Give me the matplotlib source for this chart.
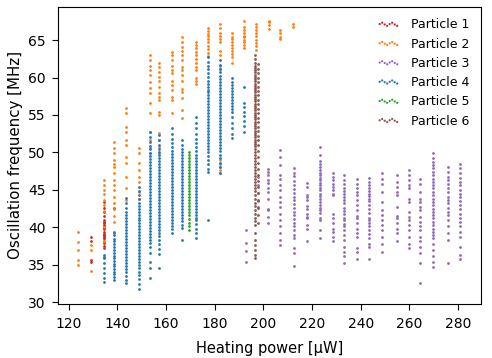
import numpy as np
import matplotlib
matplotlib.use("Agg")
import matplotlib.pyplot as plt

labels = ["Particle 1", "Particle 2", "Particle 3", "Particle 4", "Particle 5", "Particle 6"]
colors = ["#d62728", "#ff7f0e", "#9467bd", "#1f77b4", "#2ca02c", "#8c564b"]

# Particle 1 (red)
p1_x = [129.0, 134.5, 138.5]
p1_y = [
    [38.7, 38.2, 35.6, 35.3],
    [43.4, 42.6, 42.1, 41.5, 41.0, 40.7, 40.3, 40.0, 39.7, 39.4, 39.1, 38.8, 38.5,
     38.2, 37.9, 37.5, 37.2, 40.6, 39.9, 39.0, 38.6, 36.0],
    [42.6],
]

# Particle 2 (orange)
p2_x = [124.0, 129.3, 134.5, 138.6, 143.7, 148.8, 153.3, 157.2, 162.5, 166.6,
        172.3, 177.2, 182.1, 187.0, 192.1, 197.0, 202.3, 207.0, 212.0]
p2_y = [
    [39.3, 38.0, 36.9, 35.6, 35.0],
    [36.9, 34.1, 37.6],
    [46.3, 45.6, 45.0, 44.4, 43.6, 43.0, 42.2, 40.0, 38.1],
    [51.4, 50.6, 49.9, 49.0, 48.4, 48.0, 47.2, 46.3, 45.6, 45.0, 44.0, 43.2, 42.5, 41.5, 40.7, 39.2],
    [55.9, 55.2, 53.4, 52.7, 51.6, 51.0, 49.4, 48.6, 46.7, 45.2, 43.6],
    [50.6, 49.9, 48.6, 47.6, 46.7, 46.0, 44.7, 43.8],
    [63.0, 62.3, 61.6, 61.0, 60.3, 59.4, 58.6, 57.9, 56.6, 55.2, 52.7, 51.6, 50.6, 49.9],
    [62.0, 61.4, 60.7, 60.1, 59.6, 58.7, 57.9, 57.4, 57.0, 55.4, 55.0, 52.6, 51.6, 50.7, 49.9],
    [63.4, 63.0, 62.3, 61.6, 61.0, 60.6, 59.6, 59.0, 58.3, 57.4, 57.0, 55.2],
    [65.4, 64.7, 64.1, 63.6, 63.0, 62.3, 61.4, 61.0, 60.3, 59.6, 58.5, 58.1, 57.2, 55.6, 54.6],
    [64.8, 64.3, 63.9, 63.4, 63.0, 62.5, 61.9, 61.4, 61.0, 59.9, 59.6, 59.2],
    [66.6, 66.2, 65.8, 65.6, 65.1, 64.7, 64.2, 63.8, 63.3, 62.9],
    [67.2, 66.6, 65.9, 65.6, 65.2, 64.8, 63.6, 63.0, 61.6, 61.2, 49.0, 48.4, 48.0, 47.6, 47.2],
    [65.9, 65.4, 65.2, 64.7, 64.3, 64.0, 63.6, 63.2, 62.7, 62.0],
    [67.6, 66.7, 66.3, 66.0, 65.6, 65.4, 65.0, 64.7, 64.3, 63.9],
    [67.2, 66.8, 66.3, 65.9, 65.5, 65.0, 64.6, 64.2, 63.7],
    [67.6, 67.4, 67.0, 66.5],
    [66.3, 65.9, 65.4, 65.2],
    [67.2, 66.8],
]

# Particle 3 (purple)
p3_x = [192.8, 197.8, 202.0, 207.0, 212.5, 217.8, 223.3, 228.4, 233.2, 238.4,
        243.5, 248.9, 255.1, 259.8, 264.4, 269.9, 275.7, 281.0]
p3_y = [
    [39.6, 37.9, 36.8, 35.3],
    [46.7, 45.7, 44.6, 43.5, 42.7],
    [47.8, 47.4, 47.0, 46.3, 45.9, 45.2, 44.7, 43.8, 42.5, 42.3, 41.4, 40.5],
    [50.3, 49.4, 48.3, 47.0, 46.5, 45.6, 45.0, 44.1, 43.4, 42.7, 41.8, 40.9, 40.1, 39.2, 38.3, 37.6],
    [47.9, 47.3, 46.8, 46.2, 45.7, 45.1, 44.6, 44.1, 43.6, 43.1, 42.6, 42.1, 41.6, 41.1,
     40.6, 40.1, 39.6, 39.0, 38.5, 37.2, 36.5, 34.8],
    [45.9, 45.4, 44.3, 44.1, 43.6, 42.9, 42.5, 41.8, 41.4, 41.2, 40.3, 39.8, 38.1],
    [50.7, 49.7, 48.8, 48.5, 48.0, 47.7, 47.3, 47.0, 46.6, 46.3, 45.9, 45.6, 45.3, 45.0,
     44.5, 44.2, 43.8, 43.4, 43.0, 42.6, 42.3, 41.9, 41.3, 40.9, 39.6, 38.5],
    [47.2, 46.7, 46.3, 45.8, 45.4, 45.0, 44.5, 44.3, 41.8, 41.2, 40.5, 39.8, 39.4, 38.7, 38.1],
    [47.0, 46.3, 45.8, 45.3, 44.9, 44.5, 44.1, 43.6, 43.2, 42.6, 42.2, 41.8, 41.3, 40.9,
     40.4, 40.1, 39.6, 38.9, 38.3, 37.4, 36.7, 36.1, 35.2],
    [46.5, 45.8, 45.3, 44.7, 44.3, 43.6, 43.0, 42.3, 41.5, 41.2, 40.5, 39.8, 39.2, 38.7,
     37.2, 36.7, 35.8],
    [46.6, 46.1, 45.6, 45.2, 44.9, 44.5, 44.2, 43.8, 43.5, 43.0, 42.4, 41.9, 41.3, 40.9,
     40.5, 40.1, 39.6, 39.1, 38.5, 37.8, 37.4, 35.8],
    [47.2, 46.5, 45.8, 44.7, 43.4, 42.3, 41.6, 40.9, 40.3, 39.6, 38.7, 37.8, 36.7],
    [47.0, 46.1, 45.4, 44.7, 44.3, 42.7, 41.5, 41.2, 40.5, 39.8, 39.2, 38.1],
    [47.6, 47.0, 46.3, 45.6, 45.2, 43.8, 43.4, 42.1, 41.4, 40.9, 40.3, 39.6, 38.7, 37.8, 37.2],
    [46.5, 45.8, 44.7, 43.8, 43.4, 42.7, 42.3, 41.4, 40.7, 40.1, 39.6, 38.7, 38.1, 37.4,
     36.5, 35.2, 32.5],
    [49.9, 49.2, 48.7, 48.3, 47.9, 47.4, 47.0, 46.5, 46.1, 45.6, 45.2, 44.7, 44.3, 43.8,
     43.4, 43.0, 42.5, 42.1, 41.6, 41.2, 40.7, 40.3, 39.8, 39.4, 38.9, 38.5, 37.8, 36.9,
     36.1, 35.4, 34.7],
    [48.1, 47.4, 46.7, 46.3, 45.8, 45.2, 44.7, 44.1, 43.6, 43.2, 42.6, 42.1, 41.6, 41.0,
     40.1, 39.2, 38.3, 35.2],
    [48.5, 47.9, 47.2, 46.6, 46.1, 45.6, 45.0, 44.5, 44.1, 43.5, 43.0, 42.4, 41.8, 41.3,
     40.7, 40.1, 39.4, 38.7, 37.4, 36.3, 35.8],
]

# Particle 4 (blue)
p4_x = [134.5, 138.6, 143.5, 148.8, 153.3, 157.2, 162.5, 166.6, 172.3, 177.3, 182.1, 187.0, 192.1]
p4_y = [
    [36.3, 35.9, 35.2, 34.5, 33.9, 33.2, 32.7],
    [39.3, 38.9, 38.4, 38.1, 37.7, 37.3, 37.0, 36.6, 36.2, 35.9, 35.5, 35.1, 34.8, 34.4,
     34.0, 33.7, 33.3, 32.9],
    [43.9, 43.3, 42.6, 42.1, 41.6, 41.2, 40.8, 40.4, 40.0, 39.6, 39.2, 38.8, 38.4, 38.0,
     37.6, 37.2, 36.8, 36.4, 36.0, 35.6, 35.2, 34.8, 34.4, 34.0, 33.5, 33.0, 32.6],
    [45.4, 44.9, 44.3, 43.8, 43.3, 42.9, 42.5, 42.1, 41.7, 41.3, 40.9, 40.5, 40.1, 39.7,
     39.3, 38.9, 38.5, 38.1, 37.7, 37.3, 36.9, 36.5, 36.1, 35.7, 35.3, 34.9, 34.5, 34.0,
     33.6, 33.1, 32.4, 31.7],
    [52.7, 52.1, 51.4, 50.9, 50.4, 49.9, 49.5, 49.1, 48.7, 48.3, 47.9, 47.5, 47.1, 46.7,
     46.3, 45.9, 45.5, 45.1, 44.7, 44.3, 43.9, 43.5, 43.1, 42.7, 42.3, 41.9, 41.5, 41.1,
     40.7, 40.3, 39.9, 39.5, 39.1, 38.7, 38.3, 37.9, 37.4, 36.5, 35.3, 34.5, 33.2],
    [52.3, 51.6, 51.0, 50.5, 50.0, 49.6, 49.2, 48.8, 48.4, 48.0, 47.6, 47.2, 46.8, 46.4,
     46.0, 45.6, 45.2, 44.8, 44.4, 44.0, 43.6, 43.2, 42.8, 42.4, 42.0, 41.6, 41.2, 40.8,
     40.4, 40.0, 39.6, 39.2, 38.8, 38.3, 37.8, 37.1, 36.4, 34.5],
    [53.2, 52.5, 51.8, 51.2, 50.7, 50.2, 49.8, 49.4, 49.0, 48.6, 48.2, 47.8, 47.4, 47.0,
     46.6, 46.2, 45.8, 45.4, 45.0, 44.6, 44.2, 43.8, 43.4, 43.0, 42.6, 42.2, 41.8, 41.4,
     41.0, 40.6, 40.2, 39.8, 39.2],
    [51.6, 51.0, 50.5, 50.0, 49.6, 49.2, 48.8, 48.4, 48.0, 47.6, 47.2, 46.8, 46.4, 46.0,
     45.6, 45.2, 44.8, 44.4, 44.0, 43.6, 43.2, 42.8, 42.4, 42.0, 41.6, 41.2, 40.8, 40.3,
     39.9, 38.3],
    [54.7, 53.9, 53.2, 52.5, 51.8, 51.2, 50.7, 50.2, 49.7, 49.3, 48.9, 48.5, 48.1, 47.7,
     47.3, 46.9, 46.5, 46.1, 45.7, 45.3, 44.9, 44.5, 44.1, 43.7, 43.3, 42.9, 42.5, 42.1,
     41.7, 41.3, 40.9, 40.4, 39.8, 39.2, 38.5],
    [62.7, 62.1, 61.6, 61.1, 60.6, 60.1, 59.6, 59.2, 58.8, 58.4, 58.0, 57.6, 57.2, 56.8,
     56.4, 56.0, 55.6, 55.2, 54.8, 54.4, 54.0, 53.6, 53.2, 52.8, 52.4, 52.0, 51.6, 51.2,
     50.8, 50.4, 50.0, 49.5, 49.0, 48.4, 47.8, 47.4, 41.0],
    [62.3, 61.7, 61.2, 60.7, 60.2, 59.8, 59.4, 59.0, 58.6, 58.2, 57.8, 57.4, 57.0, 56.6,
     56.2, 55.8, 55.4, 55.0, 54.6, 54.2, 53.8, 53.4, 53.0, 52.6, 52.2, 51.8, 51.4, 51.0,
     50.6, 50.2, 49.7, 49.2, 48.6, 48.0, 47.2],
    [59.9, 59.4, 59.0, 58.6, 58.2, 57.8, 57.4, 57.0, 56.6, 56.2, 55.8, 55.4, 54.7, 53.9,
     53.3, 52.5, 51.9],
    [58.7, 56.6, 56.0, 55.4, 54.8, 54.2, 53.5, 52.7],
]

# Particle 5 (green)
p5_x = [169.5]
p5_y = [
    [50.0, 49.6, 49.2, 48.8, 48.4, 48.0, 47.6, 47.2, 46.8, 46.4, 46.0, 45.6, 45.2, 44.8,
     44.4, 44.0, 43.6, 43.2, 42.8, 42.4, 42.0, 41.6, 41.1, 40.6, 40.1, 39.6],
]

# Particle 6 (brown)
p6_x = [196.5, 197.8]
p6_y = [
    [63.0, 62.5, 62.0, 61.6, 61.3, 61.0, 60.7, 60.4, 60.1, 59.8, 59.5, 59.2, 58.9, 58.6,
     58.3, 58.0, 57.7, 57.4, 57.1, 56.8, 56.5, 56.2, 55.9, 55.6, 55.3, 55.0, 54.7, 54.4,
     54.1, 53.8, 53.5, 53.2, 52.9, 52.6, 52.3, 52.0, 51.7, 51.4, 51.1, 50.8, 50.4, 50.0,
     49.6, 49.2, 48.8, 48.4, 48.0, 47.6, 47.2, 46.8, 46.4, 46.0, 45.6, 45.2, 44.8, 44.3,
     43.8, 43.3, 42.8, 42.3, 41.8, 41.3, 40.8, 40.3, 39.2, 38.3, 37.6, 36.9, 36.3, 35.9],
    [61.8, 61.2, 60.6, 60.0, 59.4, 58.8, 58.2, 57.6, 57.0, 56.4, 55.8, 55.2, 54.6, 54.0,
     53.4, 52.8, 52.2, 51.6, 51.0, 50.2, 49.4, 48.6, 47.8, 47.0, 46.2, 45.4, 44.6, 43.6,
     42.6, 41.6, 40.6],
]

all_x = [p1_x, p2_x, p3_x, p4_x, p5_x, p6_x]
all_y = [p1_y, p2_y, p3_y, p4_y, p5_y, p6_y]

plt.rcParams["xtick.major.size"] = 4.5
plt.rcParams["ytick.major.size"] = 4.5
plt.rcParams["xtick.major.pad"] = 5.5
plt.rcParams["ytick.major.pad"] = 4.5

fig = plt.figure(figsize=(4.92, 3.58), dpi=100)
ax = fig.add_axes([0.1185, 0.152, 0.8585, 0.828])

for lab, col, xs, ys in zip(labels, colors, all_x, all_y):
    X = np.concatenate([np.full(len(y), x) for x, y in zip(xs, ys)])
    Y = np.concatenate([np.asarray(y, float) for y in ys])
    ax.scatter(X, Y, s=4, marker="o", color=col, linewidths=0, label=lab)

ax.set_xticks([120, 140, 160, 180, 200, 220, 240, 260, 280])
ax.set_yticks([30, 35, 40, 45, 50, 55, 60, 65])
ax.set_xlim(115.7, 289.3)
ax.set_ylim(29.8, 69.4)
ax.set_xlabel("Heating power [µW]", fontsize=10.5, labelpad=6.5)
ax.set_ylabel("Oscillation frequency [MHz]", fontsize=10.8, labelpad=4)

ax.legend(loc="upper right", frameon=False, fontsize=9, scatterpoints=8,
          scatteryoffsets=[0.5, 0.65, 0.45, 0.3, 0.5, 0.65, 0.45, 0.3],
          markerscale=0.8)

fig.savefig("out.png", dpi=100)
